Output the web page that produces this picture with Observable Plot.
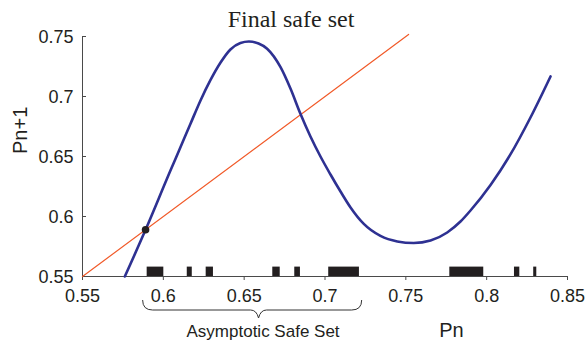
<!DOCTYPE html>
<html><head><meta charset="utf-8">
<script src="https://cdn.jsdelivr.net/npm/d3@7"></script>
<script src="https://cdn.jsdelivr.net/npm/@observablehq/plot@0.6"></script>
<style>body{margin:0;background:#fff} svg{display:block}</style>
</head><body><div id="chart"></div>
<script>
const curveX = [0.5762, 0.5890, 0.6044, 0.6096, 0.6168, 0.6230, 0.6292, 0.6354, 0.6415, 0.6477, 0.6529, 0.6589, 0.6642, 0.6725, 0.6787, 0.6848, 0.6910, 0.6972, 0.7034, 0.7096, 0.7158, 0.7240, 0.7343, 0.7447, 0.7549, 0.7653, 0.7756, 0.7838, 0.7900, 0.8024, 0.8147, 0.8271, 0.8395];
const curveY = [0.5500, 0.5889, 0.6383, 0.6546, 0.6773, 0.6967, 0.7138, 0.7283, 0.7392, 0.7446, 0.7458, 0.7442, 0.7398, 0.7244, 0.7064, 0.6856, 0.6667, 0.6500, 0.6350, 0.6208, 0.6075, 0.5938, 0.5838, 0.5792, 0.5779, 0.5800, 0.5867, 0.5958, 0.6050, 0.6263, 0.6517, 0.6825, 0.7167];
const diagX = [0.55, 0.7517];
const diagY = [0.55, 0.7517];
const fixedPointX = [0.589];
const fixedPointY = [0.5889];
const safeStart = [0.5900, 0.6148, 0.6265, 0.6677, 0.6813, 0.7023, 0.7772, 0.8172, 0.8291];
const safeEnd   = [0.6003, 0.6179, 0.6310, 0.6723, 0.6848, 0.7213, 0.7982, 0.8205, 0.8310];
const xTicks = [0.55, 0.6, 0.65, 0.7, 0.75, 0.8, 0.85];
const xTickLabels = ["0.55", "0.6", "0.65", "0.7", "0.75", "0.8", "0.85"];
const yTicks = [0.55, 0.6, 0.65, 0.7, 0.75];
const yTickLabels = ["0.55", "0.6", "0.65", "0.7", "0.75"];
const braceX = [0.5875, 0.6592, 0.7230];
const titleText = "Final safe set";
const xLabel = "Pn";
const yLabel = "Pn+1";
const annotationText = "Asymptotic Safe Set";

const curve = curveX.map((x, i) => ({x, y: curveY[i]}));
const diag = diagX.map((x, i) => ({x, y: diagY[i]}));
const fixedPts = fixedPointX.map((x, i) => ({x, y: fixedPointY[i]}));
const bars = safeStart.map((s, i) => ({x1: s, x2: safeEnd[i]}));

const ink = "#231f20";
const axisInk = "#4a4a4a";

function braceMark(index, scales, values, dimensions) {
  const sx = scales.x;
  const x0 = sx(braceX[0]), xm = sx(braceX[1]), x1 = sx(braceX[2]);
  const yb = dimensions.height - dimensions.marginBottom;
  const top = yb + 24, mid = yb + 34, tip = yb + 42;
  const d = `M${x0},${top} Q${x0},${mid} ${x0 + 10},${mid} L${xm - 8},${mid} Q${xm - 2},${mid} ${xm},${tip} Q${xm + 2},${mid} ${xm + 8},${mid} L${x1 - 10},${mid} Q${x1},${mid} ${x1},${top}`;
  const g = d3.create("svg:g");
  g.append("path").attr("d", d).attr("fill", "none").attr("stroke", "#333").attr("stroke-width", 1);
  return g.node();
}

const chart = Plot.plot({
  width: 587,
  height: 348,
  marginTop: 36,
  marginRight: 20,
  marginBottom: 72,
  marginLeft: 82,
  x: {domain: [0.55, 0.85]},
  y: {domain: [0.55, 0.75]},
  style: {fontFamily: "'Liberation Sans', Arial, sans-serif", color: ink, background: "#fff"},
  marks: [
    Plot.rect(bars, {x1: "x1", x2: "x2", insetTop: 230.6, fill: ink}),
    Plot.ruleX([0.55], {stroke: axisInk, strokeWidth: 1}),
    Plot.ruleY([0.55], {stroke: axisInk, strokeWidth: 1}),
    Plot.tickY(yTicks, {y: d => d, insetRight: 481, stroke: axisInk}),
    Plot.axisY(yTicks, {tickSize: 0, tickPadding: 9, fontSize: 18, dy: 1, label: null, tickFormat: d => yTickLabels[yTicks.indexOf(d)]}),
    Plot.axisX(xTicks, {tickSize: 4, tickPadding: 9, fontSize: 18, stroke: axisInk, label: null, tickFormat: d => xTickLabels[xTicks.indexOf(d)]}),
    Plot.line(diag, {x: "x", y: "y", stroke: "#f15a29", strokeWidth: 1.2}),
    Plot.line(curve, {x: "x", y: "y", stroke: "#2e3192", strokeWidth: 2.6, curve: "monotone-x"}),
    Plot.dot(fixedPts, {x: "x", y: "y", r: 3.8, fill: ink, stroke: null}),
    braceMark,
    Plot.text([titleText], {text: d => d, frameAnchor: "top", dx: -34, dy: -10, lineAnchor: "bottom", fontFamily: "'Liberation Serif', 'Times New Roman', serif", fontSize: 24, fill: ink}),
    Plot.text([yLabel], {text: d => d, frameAnchor: "left", rotate: -90, dx: -55.5, dy: -2.5, lineAnchor: "bottom", fontSize: 20, fill: ink}),
    Plot.text([xLabel], {text: d => d, frameAnchor: "bottom", dx: 126.5, dy: 60.7, lineAnchor: "bottom", fontSize: 20, fill: ink}),
    Plot.text([annotationText], {text: d => d, x: () => braceX[1], frameAnchor: "bottom", dx: 4, dy: 60.7, lineAnchor: "bottom", fontSize: 17, fill: ink})
  ]
});
document.getElementById("chart").appendChild(chart);
</script>
</body></html>
